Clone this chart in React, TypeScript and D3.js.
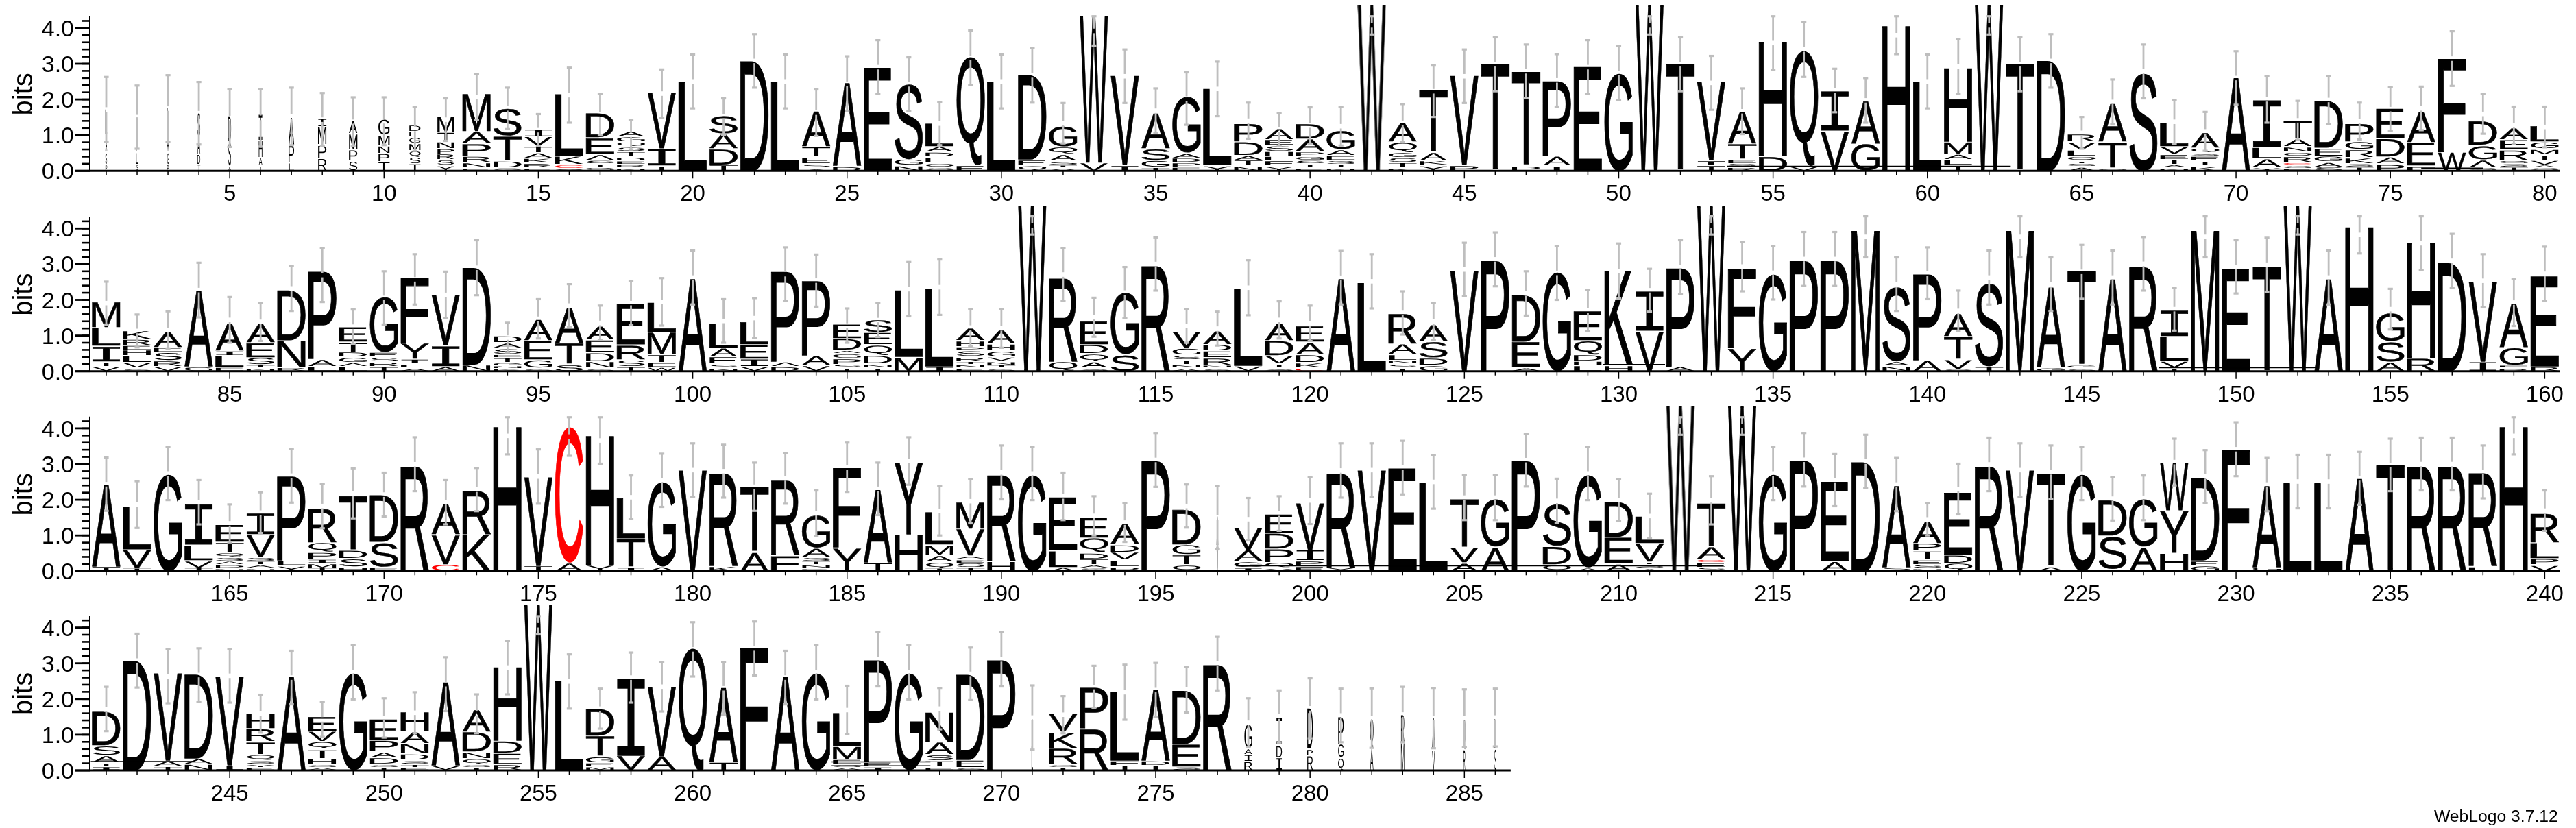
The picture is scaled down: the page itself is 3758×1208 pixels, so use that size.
import React from "react";
import * as d3 from "d3";

// Stacks list letters from the top of the column down, each with its height in bits.
const row1Stacks = [
"L.7 A.45 S.3 P.15","A.55 P.4 L.3 S.15","L.7 A.5 G.3 P.15","S.65 A.45 D.25 T.15","D.7 S.65 A.1","I.7 H.45 A.2 T.1","A.75 P.45 L.2","I.2 M.47 P.33 R.33","A.33 M.42 P.28 S.24","G.42 M.27 N.18 P.2 T.22",
"D.15 E.13 G.13 M.17 Q.15 S.16 T.16","M.41 T.22 N.16 P.12 R.13 S.12 Y.12","M1.03 A.3 P.32 R.14 N.11 E.06","S.75 T.65 D.16 Q.06","I.19 V.23 T.15 A.12 K.1 R.09 E.06","L1.71 K.2 C.08 S.03","D.66 E.42 A.13 S.07 T.07 G.06","A.13 G.11 Q.1 S.09 T.12 D.07 E.07 R.06 N.05","V1.55 I.45 T.1","L2.48",
"S.48 A.38 D.42 T.13","D3.05","L2.47","A.96 T.26 E.15 S.08 Y.06","A2.29 D.1","E2.87","S2.1 G.14 N.12","L.62 A.13 D.1 E.13 Q.1 S.05","Q3.0 E.13","L2.48",
"D2.34 E.13 Q.11","G.55 Q.17 A.15 S.08 T.05 V.05","W4.07 V.21","V2.47 I.13","A.96 S.3 G.16 T.06","G1.54 A.1 D.09 P.09 E.08","L2.11 Y.12","P.48 D.35 A.1 T.13 N.1","A.28 E.13 S.13 H.1 L.1 F.11 Y.1","D.4 A.32 P.09 G.08 S.07 T.07 E.06",
"G.5 A.13 E.1 S.08 T.07 N.05","W4.62","A.5 Q.26 G.11 S.1 T.12 K.05","T1.72 A.21 K.09 Y.12","V2.47 P.13","T2.97","T2.6 P.11","P2.07 A.24 I.11","E2.89","G2.7",
"W4.62","T2.97","V2.16 I.11 T.11","A.87 T.4 E.08 S.06 R.08","H3.17 D.38","Q3.19 V.1","I1.08 V1.09","A1.17 G.73","H4.02","L2.48",
"H2.03 M.31 A.12 L.13 T.12","W4.62","T2.97","D3.06","R.19 V.19 L.14 Q.1 T.04 S.06 A.08","A1.04 T.7 Q.05","S2.74","L.64 V.18 E.11 T.11 A.06 N.05","A.4 Q.1 S.06 E.1 T.1 K.1","A2.58",
"I1.29 L.29 A.2 Y.07","T.48 A.19 N.11 Q.1 R.13 C.04 S.05 E.04","D1.3 E.19 G.13 A.1 S.08","P.48 G.19 R.19 K.13 S.07 T.07","E.81 D.48 A.16 P.16","A.84 E.63 F.1","F2.58 W.5","D.65 G.36 A.19 S.06","A.3 E.24 R.26 G.06 S.07 T.07","L.42 G.16 M.12 T.12 V.1 A.05 S.05"];
const row1Hi = [2.63,2.39,2.68,2.49,2.29,2.29,2.33,2.18,2.06,2.06,1.79,2.03,2.71,2.33,1.59,2.89,2.15,1.43,2.84,3.26,2.03,3.83,3.26,2.28,3.21,3.66,3.18,1.93,3.93,3.26,3.44,1.9,4.33,3.4,2.31,2.76,3.06,1.91,1.62,1.78,1.79,4.33,1.87,2.95,3.4,3.74,3.54,3.27,3.66,3.5,4.33,3.74,3.22,2.31,4.33,4.17,2.86,2.6,4.33,3.26,3.69,4.33,3.74,3.83,1.51,2.56,3.54,1.99,1.65,3.35,2.66,1.96,2.66,1.91,2.34,2.36,3.91,2.15,1.8,1.8];
const row1Lo = [.81,.62,.81,.74,.67,.68,.72,.69,.69,.72,.56,.84,1.43,1.17,.69,1.35,1.01,.6,1.49,1.75,1.01,2.33,1.75,.98,1.67,2.15,1.67,.72,2.4,1.75,1.91,.77,3.51,1.9,1.06,1.29,1.53,.9,.69,.76,.71,3.82,.82,1.51,1.9,2.23,2.04,1.8,2.15,1.99,3.82,2.23,1.71,1.03,2.83,2.63,1.64,1.35,3.27,1.75,2.15,3.82,2.23,2.33,.62,1.3,2.03,.76,.56,1.85,1.35,.87,1.31,.88,1.12,1.14,2.38,1.04,.76,.66];

const row2Stacks = [
"M.69 L.49 I.4 T.1 V.1","K.21 R.14 E.1 H.13 L.16 V.12 S.05","A.41 E.1 S.2 R.13 V.1","A2.1 G.1","A.74 I.1 L.29 E.08","A.5 E.38 S.17 T.06 N.05","D1.38 N.72 R.08","P2.42 A.17 L.1","E.39 T.24 D.11 G.11 A.08 L.1","G1.52 E.1 S.09 R.1 T.1",
"F1.8 Y.42 I.1 L.07 A.06","V1.39 I.55 A.1","D2.68 N.15","D.16 A.11 S.13 E.06 T.1 G.06 N.05 K.04","A.56 E.5 G.2 S.05","A.97 T.56 S.16","A.35 E.33 D.22 N.15 S.05","E1.12 R.38 S.16 T.1","L.81 M.59 T.19 E.1 W.08","A2.56",
"L.66 A.22 E.17 S.07 N.06","L.61 E.37 I.18 V.1","P2.49 A.1 D.1","P2.06 A.24 V.13","E.37 D.3 A.06 G.1 P.13 S.07 T.05","S.33 E.31 Q.26 D.21 N.07 T.06","L1.84 M.36","L2.16 I.1","A.32 H.13 P.08 S.13 R.1 T.06 N.06 E.05","A.36 H.16 G.13 V.08 N.07 T.06 S.05",
"W4.6","R2.34 Q.24","E.63 D.22 Q.19 A.14 S.06","G1.7 S.44","R2.96","V.44 G.16 S.1 T.1 N.06 A.05","A.35 D.15 E.16 R.17 N.05 S.05","L2.13 V.12","A.46 D.4 V.2 T.07 S.06","E.42 A.32 D.19 K.11 C.06",
"A2.56","L2.45","R.83 A.26 L.13 N.07 S.07 T.06","A.43 S.43 D.17 G.13","V2.79","P3.06","D1.28 E.69 A.07","G2.74","E.8 Q.37 D.15 H.08 L.13","K2.6 H.13",
"I1.08 V1.09","P2.72 A.1","W4.6","F2.18 Y.61","G2.68","P3.06","P3.06","M3.9","S2.08 A.09 N.11","P2.38 A.28",
"A.61 T.61 V.24 S.03","S2.32 T.1","M3.9","A2.21 G.07","T2.61 G.05 S.05","A2.55","R2.93","I.7 L.66 V.16 T.06","M3.9","E2.85",
"T2.91","W4.6","A2.55","H4.0","G.77 S.54 A.23","H3.19 R.34","D3.0","V2.21 I.24","A1.2 G.47 F.05 R.05","E2.5 R.1"];
const row2Hi = [2.51,1.59,1.68,3.04,2.08,1.92,2.95,3.45,1.73,2.8,3.28,2.79,3.67,1.36,2.02,2.44,1.84,2.53,2.61,3.38,2.02,2.05,3.47,3.27,1.76,1.91,3.06,3.13,1.74,1.74,4.34,3.45,2.06,2.92,3.75,1.74,1.67,3.11,1.96,1.84,3.37,3.28,2.24,1.91,3.6,3.89,2.8,3.51,2.28,3.58,2.87,3.67,4.34,3.63,3.51,3.9,3.9,4.34,3.19,3.47,2.26,3.38,4.34,3.19,3.54,3.38,3.76,2.34,4.34,3.67,3.74,4.34,3.38,4.34,2.31,4.34,3.85,3.28,2.58,3.49];
const row2Lo = [1.31,.67,.64,1.51,.8,.85,1.69,1.94,.77,1.31,1.87,1.49,2.13,.53,.92,1.24,.87,1.29,1.28,1.87,.8,.93,1.97,1.81,.8,.96,1.54,1.58,.71,.66,3.83,1.97,.97,1.49,2.26,.8,.72,1.57,.92,.85,1.87,1.76,1.03,.88,2.1,2.38,1.56,2.0,1.12,2.04,1.67,2.16,3.83,2.24,2.01,2.39,2.39,3.19,1.69,2.02,1.12,1.87,3.19,1.69,2.03,1.87,2.26,1.14,3.19,2.18,2.23,3.83,1.87,3.3,1.17,2.83,2.34,1.79,1.27,1.97];

const row3Stacks = [
"A2.26 T.09","L1.18 V.48 T.05","G2.68","I1.11 L.4 V.17 T.06","E.46 T.25 Q.09 S.08 A.07 D.06 N.05","I.57 V.6 S.08 T.07 A.06 N.05","P2.33 L.1 Y.12","R.94 Q.24 P.16 I.08 M.09 T.06","T1.5 D.2 S.2 H.08","D1.29 S.66 E.08",
"R2.95","A.83 V.8 C.15","R1.21 K1.0","H4.0","V2.46 T.11","C3.75 A.21","H3.57 Y.15","L1.11 T.77 I.08","G2.33 A.1","V2.8",
"R2.6 K.11","T1.8 A.5","R2.09 F.41","G.89 A.22 S.08 T.07 N.06 D.05","F2.2 Y.62","A2.01 T.2","Y1.99 H1.0","L.89 M.25 A.15 Q.14 T.05","M.72 V.72 A.06 E.07 S.1 T.06","R2.41 H.25",
"G2.66","E1.46 L.43 A.08","E.54 Q.38 D.14 T.13 A.06 S.05","A.55 D.18 V.19 L.15 P.09","P3.06","D.96 G.25 T.25 Q.14","A.8 V.68","V.6 A.29 G.13 I.07","E.5 D.41 P.35 Q.11 Y.06","V1.29 I.27 P.11 E.11",
"R2.63 Y.08","V2.8","E2.86","L2.45","T1.33 V.4 A.2","G1.31 A.64","P3.06","S1.16 D.48 Q.15","G2.55 A.07","D.97 E.7 A.18",
"L.73 V.48 T.03 S.07 A.05","W4.6","T1.19 A.32 C.06 E.1 S.07","W4.6","G2.68","P3.07","E2.2 A.25","D3.03","A2.25 S.08","A.59 P.19 T.2 E.1 S.07 N.05",
"E1.72 D.2 Q.19","R2.95","V2.8","T2.57 A.1","G2.68","D.97 S.9 T.02","G1.31 A.64","W1.3 Y1.15 H.48","D2.28 E.11 G.11","F3.37",
"A2.25 G.08","L2.45","L2.45","A2.57","T2.93","R2.95","R2.95","R2.61 L.1","H4.0","R.8 L.41 P.14 V.14"];
const row3Hi = [3.18,2.52,3.48,2.55,1.87,2.21,3.43,2.45,2.88,2.76,3.75,2.55,2.89,4.31,3.41,4.31,4.31,2.68,3.29,3.58,3.54,3.04,3.31,2.26,3.6,3.04,3.75,2.38,2.58,3.52,3.48,2.76,2.1,1.9,3.87,2.43,2.39,2.05,2.1,2.64,3.58,3.58,3.65,3.25,2.69,2.69,3.85,2.59,3.48,2.57,2.17,4.31,2.66,4.31,3.48,3.87,3.28,3.82,3.17,1.9,3.01,3.74,3.58,3.52,3.48,2.64,2.68,3.71,3.39,4.17,3.17,3.26,3.26,3.34,3.71,3.74,3.74,3.52,4.31,2.26];
const row3Lo = [1.69,1.21,1.99,1.31,.81,1.07,1.92,1.2,1.48,1.53,2.24,1.31,1.68,3.27,1.89,3.23,3.01,1.46,1.8,2.08,2.06,1.69,1.89,.99,2.22,1.57,2.42,1.0,1.34,2.01,1.99,1.43,1.0,.82,2.36,1.22,.62,.86,1.13,1.32,2.06,2.08,2.15,1.75,1.43,1.43,2.37,1.35,1.99,1.41,.92,3.82,1.31,3.82,1.99,2.37,1.82,2.32,1.68,1.0,1.59,2.24,2.08,2.02,1.99,1.42,1.43,2.4,1.91,2.66,1.68,1.76,1.76,1.86,2.24,2.26,2.26,2.04,3.27,1.13];

const row4Stacks = [
"D.93 S.24 A.17 T.08 I.07","D3.04","V2.42 A.12 T.08","D2.33 A.12 N.14","V2.46 I.11","H.4 R.33 T.32 Q.13 S.07 Y.06 E.05","A2.58","E.38 V.26 Q.18 T.22 H.13 S.05 A.05","G2.68","E.56 P.29 A.13 D.15 S.05 T.05",
"H.51 A.3 N.26 D.14 S.07 T.06 E.05","A2.3 V.1","A.59 D.53 N.15 Q.13 S.05 T.05","H2.03 D.31 E.29 R.13","W4.6","L2.47","D.74 T.54 G.14 E.08 M.07","I2.13 V.38","V1.92 A.36","Q3.39",
"A2.05 T.2","F3.39","A2.58","G2.68","L.91 M.33 E.1 S.05 A.05","P2.82 E.1 I.06","G2.68","N.81 A.32 S.14 T.14 E.06","D2.36 E.18 S.05","P3.05",
"A.75 L.65","V.48 K.42 R.42 S.05 T.05","P1.12 R1.14","L1.9 F.1 T.11","A1.97 D.1 T.11","D1.47 E.6 S.07","R2.96","G.66 A.13 I.16 R.22","I.74 D.32 I.32","D1.12 P.15 R.38",
"P.74 G.35 Q.32","Q.8 A.58","R.77 M.74","A.87 V.54","Q.83 R.55","D.8 S.58"];
const row4Hi = [2.34,3.83,3.39,3.42,3.4,2.12,3.35,1.92,3.51,2.02,2.19,3.17,2.13,3.63,4.32,3.25,2.29,3.3,3.04,4.15,3.04,4.17,3.35,3.51,2.37,3.87,3.51,2.31,3.44,3.87,2.38,2.08,2.93,2.96,3.01,2.9,3.74,2.02,2.24,2.58,2.29,2.3,2.34,2.31,2.27,2.29];
const row4Lo = [1.1,2.32,1.88,1.92,1.9,1.06,1.85,.94,1.99,.92,1.04,1.66,1.04,2.13,3.81,1.73,1.17,1.9,1.65,2.63,1.56,2.66,1.85,1.99,1.01,2.35,1.99,1.15,1.97,2.35,.58,1.04,1.74,1.42,1.49,1.62,2.24,.65,.78,.9,.79,.63,.79,.62,.65,.67];

// Columns that are narrower than full width: [position, fraction of full width].
const narrowColumns: [number, number][] = [[1,.06],[2,.06],[3,.06],[4,.1],[5,.1],[6,.13],[7,.2],[8,.3],[9,.3],[10,.4],[11,.4],[12,.6],[197,.06],[271,.05],[278,.28],[279,.2],[280,.2],[281,.2],[282,.12],[283,.12],[284,.1],[285,.06],[286,.06]];
// Thin flattened glyph rules: [first position, last position, height in bits].
const thinRules: [number, number, number][] = [[53.5,62.7,.13],[76,78,.08],[147.5,152.6,.1],[129.5,131.5,.19],[197.6,213.4,.15],[240.5,243.8,.25],[264.5,267.7,.24],[264.5,267.7,.13]];

const rowBaselines = [249.3, 541.7, 833.3, 1124];
const rowsData = [
  { stacks: row1Stacks, hi: row1Hi, lo: row1Lo, first: 1 },
  { stacks: row2Stacks, hi: row2Hi, lo: row2Lo, first: 81 },
  { stacks: row3Stacks, hi: row3Hi, lo: row3Lo, first: 161 },
  { stacks: row4Stacks, hi: row4Hi, lo: row4Lo, first: 241 },
];
const yMajor = [0, 1, 2, 3, 4];
const yMinor = d3.range(0, 21).map((d) => d / 5 + 0.2).filter((d) => d < 4.3);

const BIT = 52.1;
const SLOT = 45.03;
const LEFT = 155;
const GLYPH_W = 41;
const GAP = 0.035;
const FLOOR = 0.015;
const FONT = "'Liberation Sans', Arial, sans-serif";
const MONO = "'Liberation Mono', monospace";
const GRAY = "#bebebe";

const ctx = document.createElement("canvas").getContext("2d")!;
const metricsCache = new Map<string, { l: number; r: number; a: number; d: number; family: string }>();
function glyphBox(letter: string) {
  let m = metricsCache.get(letter);
  if (!m) {
    const family = letter === "I" ? MONO : FONT;
    ctx.font = `100px ${family}`;
    const t = ctx.measureText(letter);
    m = { l: t.actualBoundingBoxLeft, r: t.actualBoundingBoxRight, a: t.actualBoundingBoxAscent, d: t.actualBoundingBoxDescent, family };
    metricsCache.set(letter, m);
  }
  return m;
}

function Glyph({ letter, cx, yBottom, yTop, width }: { letter: string; cx: number; yBottom: number; yTop: number; width: number }) {
  const m = glyphBox(letter);
  const sx = width / (m.l + m.r);
  const sy = (yBottom - yTop) / (m.a + m.d);
  const fill = letter === "C" ? "#ff0000" : "#000";
  const heavy = yBottom - yTop > 15 && width > 20;
  return (
    <text
      transform={`translate(${cx - width / 2},${yBottom}) scale(${sx},${sy})`}
      x={m.l}
      y={-m.d}
      fontFamily={m.family}
      fontSize={100}
      fill={fill}
      stroke={heavy ? fill : "none"}
      strokeWidth={heavy ? 0.9 : 0}
      vectorEffect="non-scaling-stroke"
      style={{ vectorEffect: "non-scaling-stroke" } as React.CSSProperties}
      textRendering="geometricPrecision"
    >
      {letter}
    </text>
  );
}

function parseStack(s: string) {
  return s.split(" ").map((tok) => ({ letter: tok[0], bits: parseFloat(tok.slice(1)) }));
}

function Row({ index }: { index: number }) {
  const { stacks, hi, lo, first } = rowsData[index];
  const base = rowBaselines[index];
  const y = d3.scaleLinear().domain([0, 4]).range([base, base - 4 * BIT]);
  const x = d3.scaleLinear().domain([first, first + 79]).range([LEFT, LEFT + 79 * SLOT]);
  const positions = stacks.map((_, i) => first + i);
  const last = positions[positions.length - 1];
  const clipId = `row-clip-${index}`;
  const narrow = new Map(narrowColumns);
  return (
    <g>
      <clipPath id={clipId}>
        <rect x={0} width={3758} y={y(4.63)} height={y(0) - y(4.63) + 4} />
      </clipPath>
      <g clipPath={`url(#${clipId})`} style={{ opacity: 0.999 }}>
        {stacks.map((s, i) => {
          const pos = positions[i];
          const w = GLYPH_W * (narrow.get(pos) ?? 1);
          const letters = parseStack(s).reverse();
          let h = FLOOR;
          return letters.map((g, j) => {
            const el = <Glyph key={`${pos}-${j}`} letter={g.letter} cx={x(pos)} yBottom={y(h)} yTop={y(h + g.bits)} width={w} />;
            h += g.bits + GAP;
            return el;
          });
        })}
      </g>
      {thinRules
        .filter((r) => r[0] >= first - 1 && r[0] < last)
        .map((r, i) => (
          <line key={i} x1={x(r[0])} x2={x(r[1])} y1={y(r[2])} y2={y(r[2])} stroke="#000" strokeWidth={1.5} />
        ))}
      {positions.map((pos, i) => {
        const mid = (hi[i] + lo[i]) / 2;
        const cx = x(pos);
        return (
          <g key={pos} stroke={GRAY}>
            <line x1={cx} x2={cx} y1={y(hi[i])} y2={y(mid) - 3.3} strokeWidth={2.8} />
            <line x1={cx} x2={cx} y1={y(mid) + 3.3} y2={y(lo[i])} strokeWidth={2.8} />
            <line x1={cx - 3.6} x2={cx + 3.6} y1={y(hi[i])} y2={y(hi[i])} strokeWidth={3.2} />
            <line x1={cx - 3.6} x2={cx + 3.6} y1={y(lo[i])} y2={y(lo[i])} strokeWidth={3.2} />
          </g>
        );
      })}
      <line x1={110} x2={x(last) + SLOT / 2} y1={y(0)} y2={y(0)} stroke="#000" strokeWidth={3} />
      <line x1={131} x2={131} y1={y(0)} y2={y(4.33)} stroke="#000" strokeWidth={2} />
      {yMinor.map((t) => (
        <line key={t} x1={120} x2={131} y1={y(t)} y2={y(t)} stroke="#000" strokeWidth={2.6} />
      ))}
      {yMajor.map((t) => (
        <g key={t}>
          <line x1={110} x2={131} y1={y(t)} y2={y(t)} stroke="#000" strokeWidth={2.8} />
          <text x={108} y={y(t) + 12} textAnchor="end" fontFamily={FONT} fontSize={34} fill="#000">
            {t.toFixed(1)}
          </text>
        </g>
      ))}
      <text
        transform={`translate(47,${y(2.15)}) rotate(-90)`}
        textAnchor="middle"
        fontFamily={FONT}
        fontSize={40}
        fill="#000"
      >
        bits
      </text>
      {positions.map((pos) => {
        const major = pos % 5 === 0;
        return (
          <g key={pos}>
            <line x1={x(pos)} x2={x(pos)} y1={y(0)} y2={y(0) + (major ? 11 : 6)} stroke="#000" strokeWidth={1.5} />
            {major && (
              <text x={x(pos)} y={y(0) + 44} textAnchor="middle" fontFamily={FONT} fontSize={33} fill="#000">
                {pos}
              </text>
            )}
          </g>
        );
      })}
    </g>
  );
}

export default function App() {
  return (
    <svg
      width={3758}
      height={1208}
      viewBox="0 0 3758 1208"
      style={{ position: "absolute", left: 0, top: 0, background: "#fff", display: "block" }}
    >
      <rect width={3758} height={1208} fill="#fff" />
      {rowsData.map((_, i) => (
        <Row key={i} index={i} />
      ))}
      <text x={3551} y={1199} fontFamily={FONT} fontSize={24.7} fill="#000">
        WebLogo 3.7.12
      </text>
    </svg>
  );
}
